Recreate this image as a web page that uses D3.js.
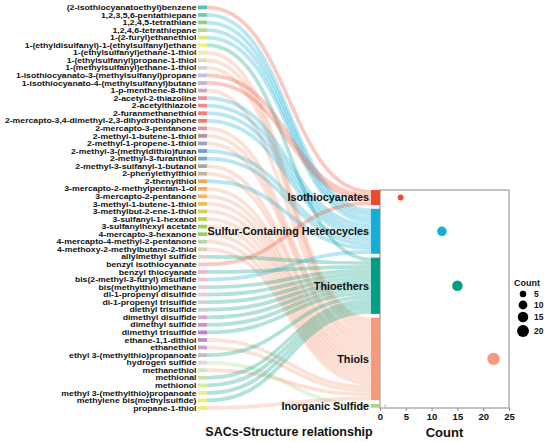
<!DOCTYPE html>
<html><head><meta charset="utf-8">
<script src="https://cdn.jsdelivr.net/npm/d3@7"></script>
<style>body{margin:0;background:#fff}svg{display:block;font-family:"Liberation Sans",Arial,sans-serif;font-weight:bold}</style>
</head><body><svg id="c" width="550" height="442"></svg>
<script>
const compounds=["(2-isothiocyanatoethyl)benzene","1,2,3,5,6-pentathiepane","1,2,4,5-tetrathiane","1,2,4,6-tetrathiepane","1-(2-furyl)ethanethiol","1-(ethyldisulfanyl)-1-(ethylsulfanyl)ethane","1-(ethylsulfanyl)ethane-1-thiol","1-(ethylsulfanyl)propane-1-thiol","1-(methylsulfanyl)ethane-1-thiol","1-isothiocyanato-3-(methylsulfanyl)propane","1-isothiocyanato-4-(methylsulfanyl)butane","1-p-menthene-8-thiol","2-acetyl-2-thiazoline","2-acetylthiazole","2-furanmethanethiol","2-mercapto-3,4-dimethyl-2,3-dihydrothiophene","2-mercapto-3-pentanone","2-methyl-1-butene-1-thiol","2-methyl-1-propene-1-thiol","2-methyl-3-(methyldithio)furan","2-methyl-3-furanthiol","2-methyl-3-sulfanyl-1-butanol","2-phenylethylthiol","2-thenylthiol","3-mercapto-2-methylpentan-1-ol","3-mercapto-2-pentanone","3-methyl-1-butene-1-thiol","3-methylbut-2-ene-1-thiol","3-sulfanyl-1-hexanol","3-sulfanylhexyl acetate","4-mercapto-3-hexanone","4-mercapto-4-methyl-2-pentanone","4-methoxy-2-methylbutane-2-thiol","allylmethyl sulfide","benzyl isothiocyanate","benzyl thiocyanate","bis(2-methyl-3-furyl) disulfide","bis(methylthio)methane","di-1-propenyl disulfide","di-1-propenyl trisulfide","diethyl trisulfide","dimethyl disulfide","dimethyl sulfide","dimethyl trisulfide","ethane-1,1-dithiol","ethanethiol","ethyl 3-(methylthio)propanoate","hydrogen sulfide","methanethiol","methional","methionol","methyl 3-(methylthio)propanoate","methylene bis(methylsulfide)","propane-1-thiol"];
// index into categories
const compoundClass=[0,1,1,1,1,2,3,3,3,0,0,3,1,1,1,1,3,3,3,1,1,3,3,1,3,3,3,3,3,3,3,3,3,2,0,2,1,2,2,2,2,2,2,2,3,3,2,4,3,2,2,2,2,3];
const compoundColors=["#5cbfa9","#77c9a5","#8fd08f","#b6db8a","#d9e88c","#f2f08a","#edebb0","#dcddb8","#d4d4d0","#c8bedd","#c2b3d8","#d4a7c3","#e8919f","#ee8a8a","#ef7f7f","#ee7a7a","#e49596","#b9909e","#9da2bd","#6fa0c7","#7ba6c5","#a7a7a7","#c3b49c","#e8a865","#f4aa5c","#f6b95a","#e9c05e","#d6cd5e","#b9d05c","#9ad45e","#8ed46a","#b5d6a0","#d2d4b2","#e2d4be","#f2c3d5","#f0b5d0","#e9bfd4","#e6cada","#ddd0d8","#d5d0d5","#d2c9d2","#d3a8d3","#cc8fcc","#c57fc3","#be8ac0","#c4a2c2","#c7b9c7","#d9d9d9","#d4e3c0","#c3e4a4","#d9ec9c","#edec8c","#f5ea80","#f7e86f"];
const categories=["Isothiocyanates","Sulfur-Containing Heterocycles","Thioethers","Thiols","Inorganic Sulfide"];
const categoryCounts=[4,12,15,22,1];
const categoryColors=["#ee4b2b","#13afd7","#009e82","#f69a7c","#a8d58a"];
const countTicks=[0,5,10,15,20,25];
const legendSizes=[5,10,15,20];

const svg=d3.select("#c");
const unit=3.75, gap=3.8, tgtTop=190;
const srcX0=198, srcX1=207, tgtX0=371, tgtX1=380;

const ySrc=d3.scalePoint().domain(compounds).range([7.4,408]);
const cum=d3.cumsum([0].concat(categoryCounts));
const yUnits=d3.scaleLinear().domain([0,1]).range([0,unit]);
const tgt=categories.map((c,i)=>({name:c,i,y0:tgtTop+yUnits(cum[i])+i*gap,y1:tgtTop+yUnits(cum[i+1])+i*gap}));
const fill=categories.map(()=>0);
const links=compounds.map((c,j)=>{
  const k=compoundClass[j]; const t=tgt[k];
  const yt=t.y0+yUnits(fill[k])+unit/2; fill[k]++;
  return {source:[srcX1,ySrc(c)],target:[tgtX0,yt],k};
});
const lh=d3.linkHorizontal().x(d=>d[0]).y(d=>d[1]);
svg.append("g").attr("fill","none").selectAll("path").data(links).join("path")
  .attr("d",d=>lh({source:d.source,target:d.target}))
  .attr("stroke",d=>categoryColors[d.k]).attr("stroke-opacity",0.3).attr("stroke-width",unit);

svg.append("g").selectAll("rect").data(compounds).join("rect")
  .attr("x",srcX0).attr("width",srcX1-srcX0).attr("y",d=>ySrc(d)-unit/2).attr("height",unit)
  .attr("fill",(d,i)=>compoundColors[i]);
svg.append("g").selectAll("text").data(compounds).join("text")
  .attr("transform",d=>`translate(${srcX0-1.5},${ySrc(d)}) scale(1.16,1)`)
  .attr("dy","0.35em").attr("text-anchor","end")
  .attr("font-size",7.5).attr("fill","#111").text(d=>d);

const x=d3.scaleLinear().domain([0,25]).range([tgtX1,509]);
const panelBottom=408;
svg.append("rect").attr("x",tgtX1).attr("y",tgtTop).attr("width",x(25)-tgtX1).attr("height",panelBottom-tgtTop)
  .attr("fill","none").attr("stroke","#888").attr("stroke-width",1);
const ax=svg.append("g").attr("transform",`translate(0,${panelBottom})`)
  .call(d3.axisBottom(x).tickValues(countTicks).tickSize(3).tickPadding(2));
ax.select(".domain").remove();
ax.selectAll("line").attr("stroke","#888");
ax.selectAll("text").attr("font-size",9.5).attr("font-family",null).attr("font-weight","bold").attr("fill","#111");

svg.append("g").selectAll("rect").data(tgt).join("rect")
  .attr("x",tgtX0).attr("width",tgtX1-tgtX0).attr("y",d=>d.y0).attr("height",d=>d.y1-d.y0)
  .attr("fill",d=>categoryColors[d.i]);
svg.append("g").selectAll("text").data(tgt).join("text")
  .attr("x",tgtX0-2).attr("y",d=>(d.y0+d.y1)/2).attr("dy","0.35em").attr("text-anchor","end")
  .attr("font-size",10.8).attr("fill","#111").text(d=>d.name);

const rScale=d3.scaleLinear().domain([0,1]).range([1,6.2]);
const r=v=>rScale(Math.sqrt((v-1)/21));
svg.append("g").selectAll("circle").data(tgt).join("circle")
  .attr("cx",d=>x(categoryCounts[d.i])).attr("cy",d=>(d.y0+d.y1)/2).attr("r",d=>r(categoryCounts[d.i]))
  .attr("fill",d=>categoryColors[d.i]);

svg.append("text").attr("x",514).attr("y",283).attr("dy","0.35em").attr("font-size",9).attr("fill","#111").text("Count");
const ly=[294,305,317,331];
const lg=svg.append("g").selectAll("g").data(legendSizes).join("g").attr("transform",(d,i)=>`translate(523,${ly[i]})`);
lg.append("circle").attr("r",d=>r(d)).attr("fill","#000");
lg.append("text").attr("x",11).attr("dy","0.35em").attr("font-size",8.5).attr("fill","#111").text(d=>d);

svg.append("text").attr("x",289).attr("y",432).attr("dy","0.35em").attr("text-anchor","middle").attr("font-size",12.5).attr("fill","#111").text("SACs-Structure relationship");
svg.append("text").attr("x",(tgtX1+509)/2).attr("y",432).attr("dy","0.35em").attr("text-anchor","middle").attr("font-size",13).attr("fill","#111").text("Count");
</script></body></html>
